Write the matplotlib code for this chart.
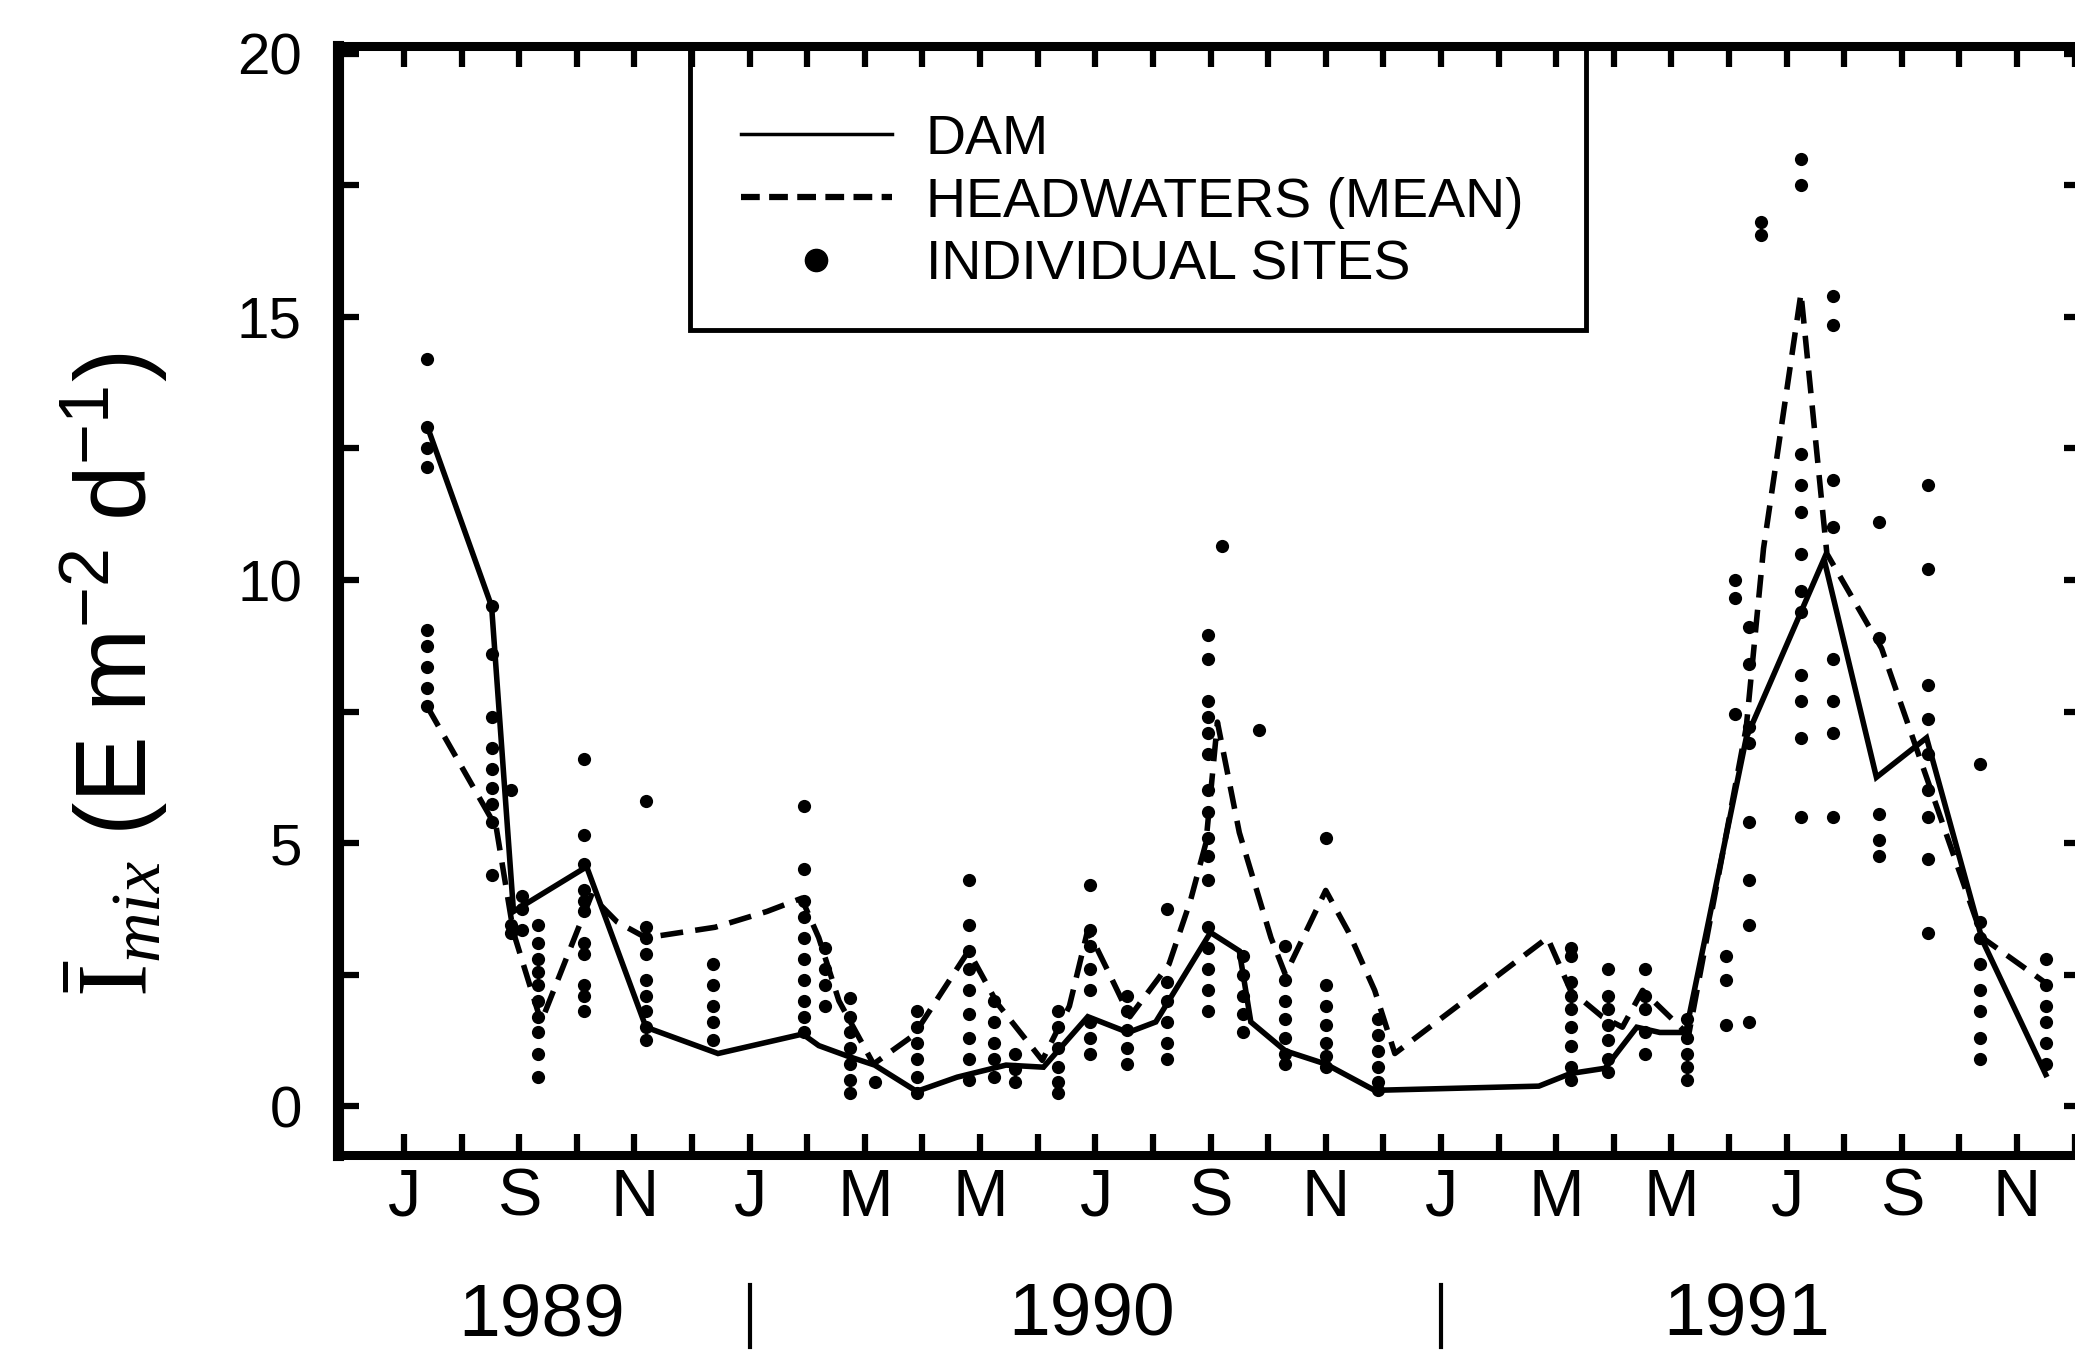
import numpy as np
import matplotlib
matplotlib.use('Agg')
import matplotlib.pyplot as plt
from matplotlib.lines import Line2D
from matplotlib.patches import Rectangle
import matplotlib.transforms as mtransforms

plt.rcParams['font.family'] = ['Liberation Sans', 'DejaVu Sans']
plt.rcParams['mathtext.fontset'] = 'custom'
plt.rcParams['mathtext.rm'] = 'Liberation Serif'
plt.rcParams['mathtext.it'] = 'Liberation Serif:italic'
plt.rcParams['mathtext.sf'] = 'Liberation Sans'

# x = months since 1 Jan 1989
dam_months = [6.41, 7.52, 7.90, 9.17, 10.20, 11.45, 12.92, 13.20, 13.70, 14.17,
              14.90, 15.60, 16.45, 17.10, 17.87, 18.57, 19.05, 20.00, 20.50, 20.70,
              21.30, 22.00, 22.85, 25.70, 26.25, 26.85, 27.40, 27.80, 28.25, 29.30,
              30.65, 31.56, 32.43, 33.40, 34.50]
dam_values = [12.9, 9.5, 3.7, 4.55, 1.5, 1.0, 1.37, 1.15, 0.95, 0.78,
              0.28, 0.55, 0.78, 0.74, 1.7, 1.4, 1.6, 3.3, 2.95, 1.6,
              1.05, 0.8, 0.3, 0.38, 0.62, 0.72, 1.5, 1.4, 1.4, 7.0,
              10.4, 6.25, 7.0, 3.15, 0.6]

hw_months = [6.40, 7.60, 7.90, 8.38, 9.25, 9.70, 10.20, 11.40, 12.30, 12.90,
             13.20, 13.55, 14.15, 14.85, 15.80, 16.30, 17.08, 17.55, 17.87, 18.25,
             18.60, 19.28, 19.65, 19.92, 20.12, 20.50, 21.05, 21.30, 22.00, 22.40,
             22.85, 23.20, 25.85, 26.25, 26.80, 27.15, 27.50, 28.30, 29.30, 29.60,
             30.25, 30.70, 31.65, 33.40, 34.55]
hw_values = [7.6, 5.3, 3.3, 1.6, 4.0, 3.5, 3.2, 3.4, 3.7, 3.95,
             3.2, 2.0, 0.8, 1.35, 2.95, 1.95, 0.87, 1.9, 3.35, 2.5,
             1.7, 2.7, 3.9, 5.0, 7.3, 5.2, 3.2, 2.5, 4.1, 3.3,
             2.2, 1.0, 3.2, 2.2, 1.7, 1.5, 2.2, 1.35, 7.2, 10.6,
             15.45, 10.5, 8.7, 3.2, 2.3]

site_months = [6.40, 7.52, 7.86, 8.05, 8.32, 9.12, 10.20, 11.37, 12.95, 13.30,
               13.75, 14.17, 14.90, 15.80, 16.25, 16.60, 17.35, 17.90, 18.55, 19.25,
               19.95, 20.20, 20.85, 20.57, 21.30, 22.00, 22.90, 26.25, 26.90, 27.55,
               28.28, 28.95, 29.10, 29.35, 29.55, 30.25, 30.80, 31.60, 32.45, 33.35,
               34.50]
site_values = [
    [14.2, 12.9, 12.5, 12.15, 9.05, 8.75, 8.35, 7.95, 7.6],
    [9.5, 8.6, 7.4, 6.8, 6.4, 6.05, 5.75, 5.4, 4.4],
    [6.0, 3.45, 3.3],
    [4.0, 3.75, 3.35],
    [3.45, 3.1, 2.8, 2.55, 2.3, 2.0, 1.7, 1.4, 1.0, 0.55],
    [6.6, 5.15, 4.6, 4.1, 3.9, 3.7, 3.1, 2.9, 2.3, 2.1, 1.8],
    [5.8, 3.4, 3.2, 2.9, 2.4, 2.1, 1.8, 1.5, 1.25],
    [2.7, 2.3, 1.9, 1.6, 1.25],
    [5.7, 4.5, 3.9, 3.6, 3.2, 2.8, 2.4, 2.0, 1.7, 1.4],
    [3.0, 2.6, 2.3, 1.9],
    [2.05, 1.7, 1.4, 1.1, 0.8, 0.5, 0.25],
    [0.45],
    [1.8, 1.5, 1.2, 0.9, 0.55, 0.25],
    [4.3, 3.45, 2.95, 2.6, 2.2, 1.75, 1.3, 0.9, 0.5],
    [2.0, 1.6, 1.2, 0.9, 0.55],
    [1.0, 0.7, 0.45],
    [1.8, 1.5, 1.1, 0.75, 0.45, 0.25],
    [4.2, 3.35, 3.05, 2.6, 2.2, 1.6, 1.3, 1.0],
    [2.1, 1.8, 1.45, 1.1, 0.8],
    [3.75, 2.35, 2.0, 1.6, 1.2, 0.9],
    [8.95, 8.5, 7.7, 7.4, 7.1, 6.7, 6.0, 5.6, 5.1, 4.75, 4.3, 3.4, 3.0, 2.6, 2.2, 1.8],
    [10.65],
    [7.15],
    [2.85, 2.5, 2.1, 1.75, 1.4],
    [3.05, 2.4, 2.0, 1.65, 1.3, 1.0, 0.8],
    [5.1, 2.3, 1.9, 1.55, 1.2, 0.95, 0.75],
    [1.65, 1.35, 1.05, 0.75, 0.45, 0.3],
    [3.0, 2.85, 2.35, 2.1, 1.85, 1.5, 1.15, 0.75, 0.5],
    [2.6, 2.1, 1.85, 1.55, 1.25, 0.9, 0.65],
    [2.6, 2.1, 1.85, 1.4, 1.0],
    [1.65, 1.3, 1.0, 0.75, 0.5],
    [2.85, 2.4, 1.55],
    [10.0, 9.65, 7.45],
    [9.1, 8.4, 7.2, 6.9, 5.4, 4.3, 3.45, 1.6],
    [16.8, 16.55],
    [18.0, 17.5, 12.4, 11.8, 11.3, 10.5, 9.8, 9.4, 8.2, 7.7, 7.0, 5.5],
    [15.4, 14.85, 11.9, 11.0, 8.5, 7.7, 7.1, 5.5],
    [11.1, 8.9, 5.55, 5.05, 4.75],
    [11.8, 10.2, 8.0, 7.35, 6.7, 6.0, 5.5, 4.7, 3.3],
    [6.5, 3.5, 3.2, 2.7, 2.2, 1.8, 1.3, 0.9],
    [2.8, 2.3, 1.9, 1.6, 1.2, 0.8],
]

month_ticks = list(range(6, 36))
month_label_pos = list(range(6, 35, 2))
month_labels = ['J', 'S', 'N', 'J', 'M', 'M', 'J', 'S', 'N', 'J', 'M', 'M', 'J', 'S', 'N']
year_labels = ['1989', '1990', '1991']
year_centers = [8.38, 17.93, 29.3]
year_breaks = [12, 24]
y_ticks = [0, 2.5, 5, 7.5, 10, 12.5, 15, 17.5, 20]
y_ticklabels = ['0', '', '5', '', '10', '', '15', '', '20']
legend_labels = ['DAM', 'HEADWATERS (MEAN)', 'INDIVIDUAL SITES']

fig = plt.figure(figsize=(20.75, 13.53), dpi=100)
ax = fig.add_axes([0.1629, 0.1463, 0.8419, 0.8197])

sx = np.concatenate([[m] * len(v) for m, v in zip(site_months, site_values)])
sy = np.concatenate([v for v in site_values])
ax.plot(sx, sy, 'o', color='black', ms=9.5, mew=0, ls='none')
ax.plot(hw_months, hw_values, color='black', lw=4, dashes=(4.1, 2.2))
ax.plot(dam_months, dam_values, color='black', lw=4, solid_joinstyle='miter')

ax.set_xlim(4.854, 35.18)
ax.set_ylim(-0.93, 20.15)

ax.set_yticks(y_ticks)
ax.set_yticklabels(y_ticklabels)
ax.set_xticks(month_ticks)
ax.set_xticklabels([month_labels[month_label_pos.index(m)] if m in month_label_pos else ''
                    for m in month_ticks])
ax.tick_params(axis='both', direction='in', length=15, width=4.5, color='black')
ax.tick_params(axis='x', top=True, labelsize=48, pad=9)
ax.tick_params(axis='y', right=True, labelsize=42, pad=26)

for side, lw in [('left', 8), ('bottom', 6.5), ('top', 6.5), ('right', 6.5)]:
    ax.spines[side].set_linewidth(lw)

# legend (frame drawn as a separate box whose top sits under the top spine)
handles = [Line2D([], [], color='black', lw=2.5),
           Line2D([], [], color='black', lw=4.5, dashes=(3.0, 1.5)),
           Line2D([], [], color='black', marker='o', ls='none', ms=16)]
leg = ax.legend(handles, legend_labels, loc='upper left',
                bbox_to_anchor=((739 - 338) / 1740, 0.939),
                bbox_transform=ax.transAxes, frameon=False, fontsize=40,
                handlelength=2.73, handletextpad=0.6, borderpad=0, borderaxespad=0,
                labelspacing=0.2)
ax.add_patch(Rectangle((0.2017, 0.7439), 0.5127, 0.2561, transform=ax.transAxes,
                       fill=False, edgecolor='black', lw=3.5, clip_on=False, zorder=1.5))

trans = mtransforms.blended_transform_factory(ax.transData, ax.transAxes)
for yr, xc in zip(year_labels, year_centers):
    ax.text(xc, -0.1623, yr, transform=trans, ha='center', va='baseline', fontsize=54)
for xb in year_breaks:
    ax.plot([xb, xb], [-0.1172, -0.1731], transform=trans, color='black', lw=3,
            clip_on=False)

fig.text(115 / 2075, 0.501,
         r'$\bar{\mathrm{I}}_{mix}\ \mathsf{(E\ m^{-2}\ d^{-1})}$',
         rotation=90, ha='center', va='center', fontsize=72)

fig.savefig('out.png', dpi=100)
